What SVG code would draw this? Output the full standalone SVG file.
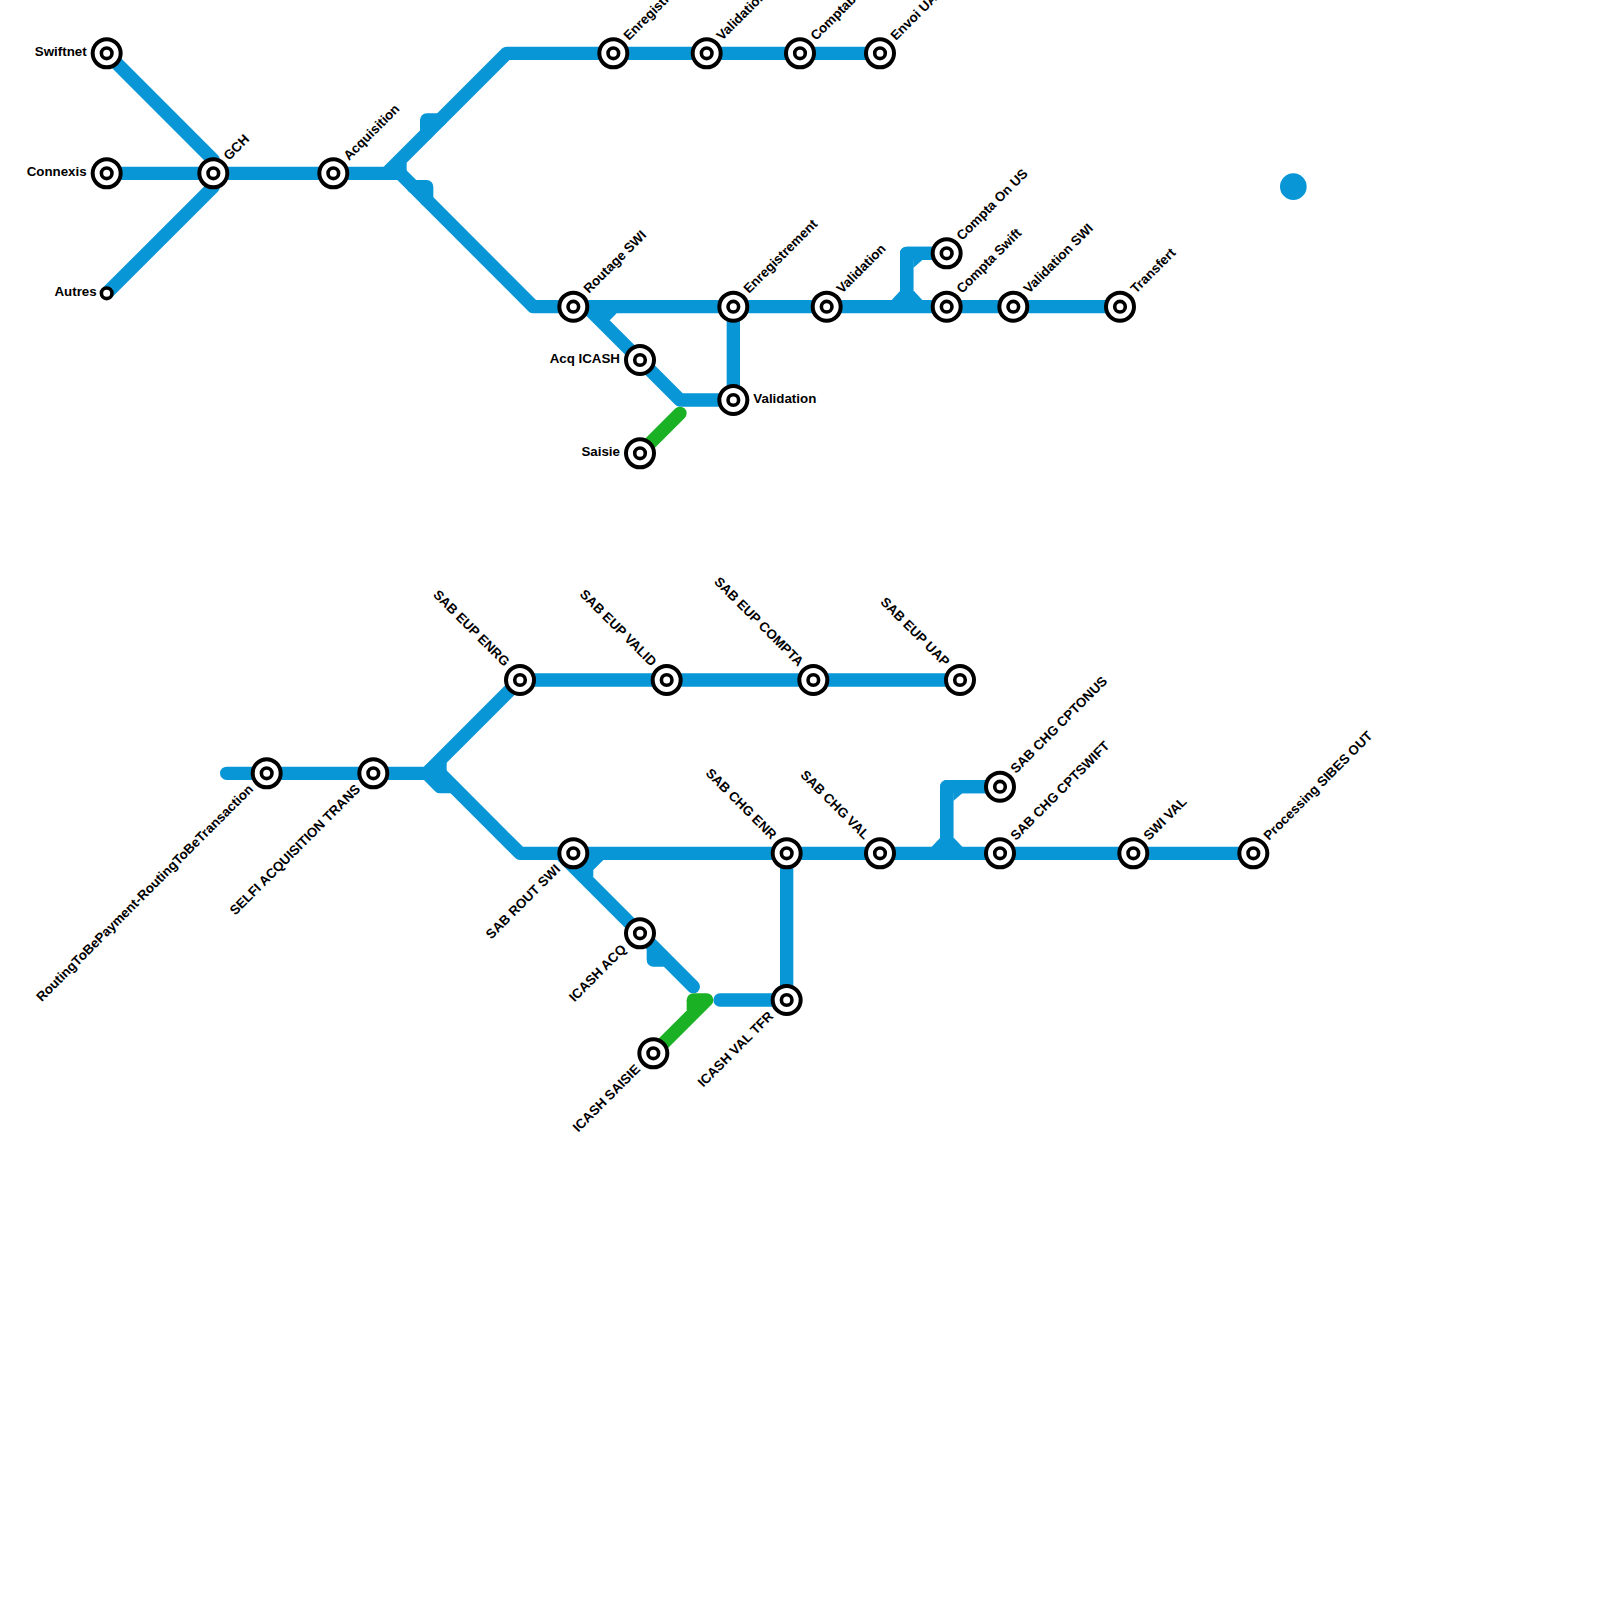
<svg xmlns="http://www.w3.org/2000/svg" width="1600" height="1600" viewBox="0 0 1600 1600">
<style>
.b{fill:none;stroke:#0896d7;stroke-width:13.33;stroke-linejoin:round;stroke-linecap:round}
.bb{fill:none;stroke:#0896d7;stroke-width:13.33;stroke-linejoin:round;stroke-linecap:butt}
.g{fill:none;stroke:#1bb125;stroke-width:13.33;stroke-linejoin:round;stroke-linecap:round}
.gb{fill:none;stroke:#1bb125;stroke-width:13.33;stroke-linejoin:round;stroke-linecap:butt}
.f{fill:#0896d7;stroke:none}
.o{fill:#fff;stroke:#000;stroke-width:4}
.i{fill:#fff;stroke:#000;stroke-width:3.6}
text{font-family:"Liberation Sans",Arial,sans-serif;font-size:13.33px;font-weight:bold;fill:#000}
.e{text-anchor:end}
</style>
<g id="connectors">
<path class="bb" d="M106.67 53.33L213.33 160V173.33M106.67 173.33H400L533.33 306.67H826.67M106.67 293.33L213.33 186.67V173.33"/>
<path class="bb" d="M386.67 173.33L506.67 53.33H880M400 173.33V163"/>
<path class="b" d="M426.67 133.33V120H440M413.33 186.67H426.67V200"/>
<path class="bb" d="M586.67 306.67L680 400H733.33V306.67M826.67 306.67H1120M906.67 306.67V253.33H946.67"/>
<path class="b" d="M906.67 290V253.33H940"/>
<polygon class="f" points="585,306 616.7,313.33 609.3,320.7 600,322"/>
<polygon class="f" points="891.7,300 900,291 914,291 922.3,300 922.3,307 891.7,307"/>
<polygon class="f" points="913.33,268 922.3,260 913.33,255"/>
<path class="g" d="M640 453.33L680 413.33"/>
<path class="b" d="M226.67 773.33H440L520 853.33H786.67M426.67 773.33L520 680H960"/>
<path class="bb" d="M440 773.33V762"/>
<path class="b" d="M426.67 773.33L440 786.67H453"/>
<path class="bb" d="M560 853.33L640 933.33"/>
<path class="b" d="M640 933.33L693.33 986.67M653.33 946.67V960H665"/>
<polygon class="f" points="570,853 603.3,860 593.3,870 593.3,877 575,870"/>
<path class="b" d="M720 1000H786.67V853.33M786.67 853.33H1253.33"/>
<path class="bb" d="M946.67 853.33V786.67H1000"/>
<path class="b" d="M946.67 840V786.67H990"/>
<polygon class="f" points="931.7,846.67 940,838 954,838 962.3,846.67 962.3,854 931.7,854"/>
<polygon class="f" points="953.33,801 962.3,793.33 953.33,789"/>
<path class="g" d="M653.33 1053.33L706.67 1000H693.33"/>
<path class="gb" d="M693.33 1000V1010"/>
<circle class="f" cx="1293.33" cy="186.67" r="13.33"/>
</g>
<g id="n1"><circle class="o" cx="106.67" cy="53.33" r="14"/><circle class="i" cx="106.67" cy="53.33" r="5.3"/><text class="e" x="86.67" y="56">Swiftnet</text></g>
<g id="n2"><circle class="o" cx="106.67" cy="173.33" r="14"/><circle class="i" cx="106.67" cy="173.33" r="5.3"/><text class="e" x="86.67" y="176">Connexis</text></g>
<g id="n3"><circle class="i" cx="106.67" cy="293.33" r="5.3"/><text class="e" x="96.67" y="296">Autres</text></g>
<g id="n4"><circle class="o" cx="213.33" cy="173.33" r="14"/><circle class="i" cx="213.33" cy="173.33" r="5.3"/><text transform="translate(229 161) rotate(-45)">GCH</text></g>
<g id="n5"><circle class="o" cx="333.33" cy="173.33" r="14"/><circle class="i" cx="333.33" cy="173.33" r="5.3"/><text transform="translate(349 161) rotate(-45)">Acquisition</text></g>
<g id="n6"><circle class="o" cx="613.33" cy="53.33" r="14"/><circle class="i" cx="613.33" cy="53.33" r="5.3"/><text transform="translate(629 41) rotate(-45)">Enregistrement</text></g>
<g id="n7"><circle class="o" cx="706.67" cy="53.33" r="14"/><circle class="i" cx="706.67" cy="53.33" r="5.3"/><text transform="translate(722 41) rotate(-45)">Validation</text></g>
<g id="n8"><circle class="o" cx="800" cy="53.33" r="14"/><circle class="i" cx="800" cy="53.33" r="5.3"/><text transform="translate(816 41) rotate(-45)">Comptabilisation</text></g>
<g id="n9"><circle class="o" cx="880" cy="53.33" r="14"/><circle class="i" cx="880" cy="53.33" r="5.3"/><text transform="translate(896 41) rotate(-45)">Envoi UAP</text></g>
<g id="n10"><circle class="o" cx="573.33" cy="306.67" r="14"/><circle class="i" cx="573.33" cy="306.67" r="5.3"/><text transform="translate(589 294) rotate(-45)">Routage SWI</text></g>
<g id="n11"><circle class="o" cx="733.33" cy="306.67" r="14"/><circle class="i" cx="733.33" cy="306.67" r="5.3"/><text transform="translate(749 294) rotate(-45)">Enregistrement</text></g>
<g id="n12"><circle class="o" cx="826.67" cy="306.67" r="14"/><circle class="i" cx="826.67" cy="306.67" r="5.3"/><text transform="translate(842 294) rotate(-45)">Validation</text></g>
<g id="n13"><circle class="o" cx="946.67" cy="253.33" r="14"/><circle class="i" cx="946.67" cy="253.33" r="5.3"/><text transform="translate(962 241) rotate(-45)">Compta On US</text></g>
<g id="n14"><circle class="o" cx="946.67" cy="306.67" r="14"/><circle class="i" cx="946.67" cy="306.67" r="5.3"/><text transform="translate(962 294) rotate(-45)">Compta Swift</text></g>
<g id="n15"><circle class="o" cx="1013.33" cy="306.67" r="14"/><circle class="i" cx="1013.33" cy="306.67" r="5.3"/><text transform="translate(1029 294) rotate(-45)">Validation SWI</text></g>
<g id="n16"><circle class="o" cx="1120" cy="306.67" r="14"/><circle class="i" cx="1120" cy="306.67" r="5.3"/><text transform="translate(1136 294) rotate(-45)">Transfert</text></g>
<g id="n17"><circle class="o" cx="640" cy="360" r="14"/><circle class="i" cx="640" cy="360" r="5.3"/><text class="e" x="620" y="362.7">Acq ICASH</text></g>
<g id="n18"><circle class="o" cx="733.33" cy="400" r="14"/><circle class="i" cx="733.33" cy="400" r="5.3"/><text x="753.33" y="402.7">Validation</text></g>
<g id="n19"><circle class="o" cx="640" cy="453.33" r="14"/><circle class="i" cx="640" cy="453.33" r="5.3"/><text class="e" x="620" y="456">Saisie</text></g>
<g id="n20"><circle class="o" cx="266.67" cy="773.33" r="14"/><circle class="i" cx="266.67" cy="773.33" r="5.3"/><text class="e" transform="translate(254 790) rotate(-45)">RoutingToBePayment-RoutingToBeTransaction</text></g>
<g id="n21"><circle class="o" cx="373.33" cy="773.33" r="14"/><circle class="i" cx="373.33" cy="773.33" r="5.3"/><text class="e" transform="translate(361 790) rotate(-45)">SELFI ACQUISITION TRANS</text></g>
<g id="n22"><circle class="o" cx="520" cy="680" r="14"/><circle class="i" cx="520" cy="680" r="5.3"/><text class="e" transform="translate(504 667) rotate(45)">SAB EUP ENRG</text></g>
<g id="n23"><circle class="o" cx="666.67" cy="680" r="14"/><circle class="i" cx="666.67" cy="680" r="5.3"/><text class="e" transform="translate(651 667) rotate(45)">SAB EUP VALID</text></g>
<g id="n24"><circle class="o" cx="813.33" cy="680" r="14"/><circle class="i" cx="813.33" cy="680" r="5.3"/><text class="e" transform="translate(798 667) rotate(45)">SAB EUP COMPTA</text></g>
<g id="n25"><circle class="o" cx="960" cy="680" r="14"/><circle class="i" cx="960" cy="680" r="5.3"/><text class="e" transform="translate(944 667) rotate(45)">SAB EUP UAP</text></g>
<g id="n26"><circle class="o" cx="573.33" cy="853.33" r="14"/><circle class="i" cx="573.33" cy="853.33" r="5.3"/><text class="e" transform="translate(561 870) rotate(-45)">SAB ROUT SWI</text></g>
<g id="n27"><circle class="o" cx="786.67" cy="853.33" r="14"/><circle class="i" cx="786.67" cy="853.33" r="5.3"/><text class="e" transform="translate(771 840) rotate(45)">SAB CHG ENR</text></g>
<g id="n28"><circle class="o" cx="880" cy="853.33" r="14"/><circle class="i" cx="880" cy="853.33" r="5.3"/><text class="e" transform="translate(864 840) rotate(45)">SAB CHG VAL</text></g>
<g id="n29"><circle class="o" cx="1000" cy="786.67" r="14"/><circle class="i" cx="1000" cy="786.67" r="5.3"/><text transform="translate(1016 774) rotate(-45)">SAB CHG CPTONUS</text></g>
<g id="n30"><circle class="o" cx="1000" cy="853.33" r="14"/><circle class="i" cx="1000" cy="853.33" r="5.3"/><text transform="translate(1016 841) rotate(-45)">SAB CHG CPTSWIFT</text></g>
<g id="n31"><circle class="o" cx="1133.33" cy="853.33" r="14"/><circle class="i" cx="1133.33" cy="853.33" r="5.3"/><text transform="translate(1149 841) rotate(-45)">SWI VAL</text></g>
<g id="n32"><circle class="o" cx="1253.33" cy="853.33" r="14"/><circle class="i" cx="1253.33" cy="853.33" r="5.3"/><text transform="translate(1269 841) rotate(-45)">Processing SIBES OUT</text></g>
<g id="n33"><circle class="o" cx="640" cy="933.33" r="14"/><circle class="i" cx="640" cy="933.33" r="5.3"/><text class="e" transform="translate(627 950) rotate(-45)">ICASH ACQ</text></g>
<g id="n34"><circle class="o" cx="786.67" cy="1000" r="14"/><circle class="i" cx="786.67" cy="1000" r="5.3"/><text class="e" transform="translate(774 1017) rotate(-45)">ICASH VAL TFR</text></g>
<g id="n35"><circle class="o" cx="653.33" cy="1053.33" r="14"/><circle class="i" cx="653.33" cy="1053.33" r="5.3"/><text class="e" transform="translate(641 1070) rotate(-45)">ICASH SAISIE</text></g>
</svg>
